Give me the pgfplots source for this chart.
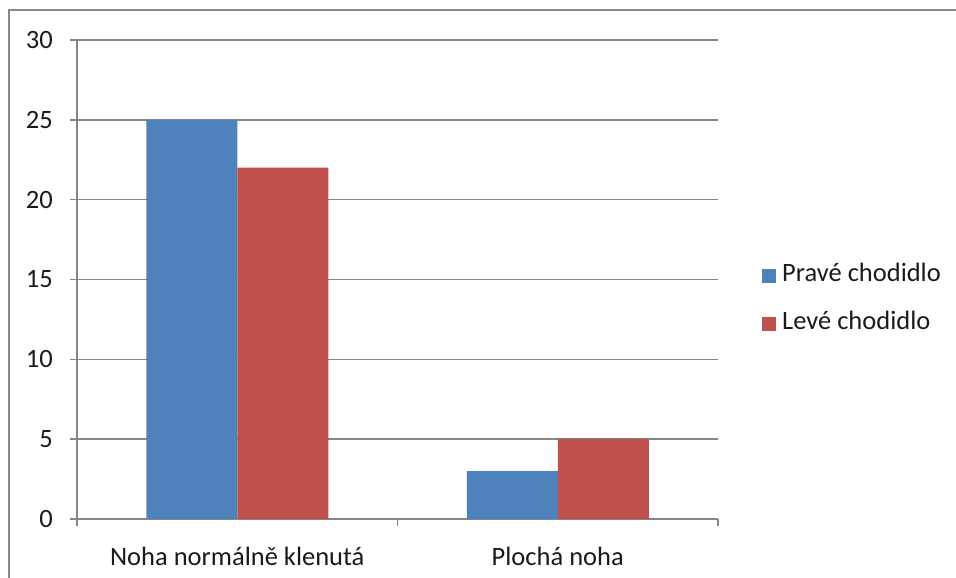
\documentclass[border=0pt]{standalone}
\usepackage{pgfplots}
\pgfplotsset{compat=1.18}
\usepackage{fontspec}
\setmainfont{Carlito}

\definecolor{serA}{HTML}{4F81BD}
\definecolor{serB}{HTML}{C0504D}
\definecolor{rule}{HTML}{868686}
\definecolor{ink}{HTML}{1A1A1A}

\begin{document}
\begin{tikzpicture}
  \useasboundingbox (0bp,0bp) rectangle (956bp,578bp);
  % chart frame
  \draw[rule, line width=2bp] (9bp,0bp) -- (9bp,568bp) -- (956bp,568bp);
  \begin{axis}[
    at={(77bp,59bp)}, anchor=south west,
    scale only axis, width=641bp, height=479bp,
    xmin=-0.5, xmax=1.5, ymin=0, ymax=30,
    ybar=0pt, bar width=91bp,
    axis x line*=bottom, axis y line*=left,
    axis line style={rule, line width=1.5bp, -},
    ytick={0,5,...,30},
    ymajorgrids, grid style={rule, line width=1.5bp},
    xtick={0,1},
    xticklabels={Noha normálně klenutá, Plochá noha},
    minor xtick={-0.5,0.5,1.5},
    major x tick style={draw=none},
    tick align=outside,
    major tick length=7bp, minor tick length=7bp,
    every tick/.style={rule, line width=1.5bp},
    minor tick style={rule, line width=1.5bp},
    tick label style={font=\fontsize{26.5bp}{31bp}\selectfont, text=ink},
    /pgf/number format/assume math mode=true,
    yticklabel style={anchor=east, inner sep=0pt, xshift=-17bp},
    xticklabel style={anchor=base, inner sep=0pt, yshift=-39bp},
    legend style={at={(1,0.4624)}, anchor=west, xshift=41bp, yshift=-2bp,
      draw=none, fill=none, row sep=24bp, column sep=6bp,
      font=\fontsize{26.5bp}{31bp}\selectfont, text=ink,
      nodes={inner sep=0pt, text height=18bp, text depth=6bp}},
    legend cell align=left,
  ]
    \addplot[fill=serA, draw=none,
      legend image code/.code={\fill[serA] (0bp,-7bp) rectangle (14bp,7bp);}]
      coordinates {(0,25) (1,3)};
    \addplot[fill=serB, draw=none,
      legend image code/.code={\fill[serB] (0bp,-7bp) rectangle (14bp,7bp);}]
      coordinates {(0,22) (1,5)};
    \legend{Pravé chodidlo, Levé chodidlo}
  \end{axis}
\end{tikzpicture}
\end{document}
